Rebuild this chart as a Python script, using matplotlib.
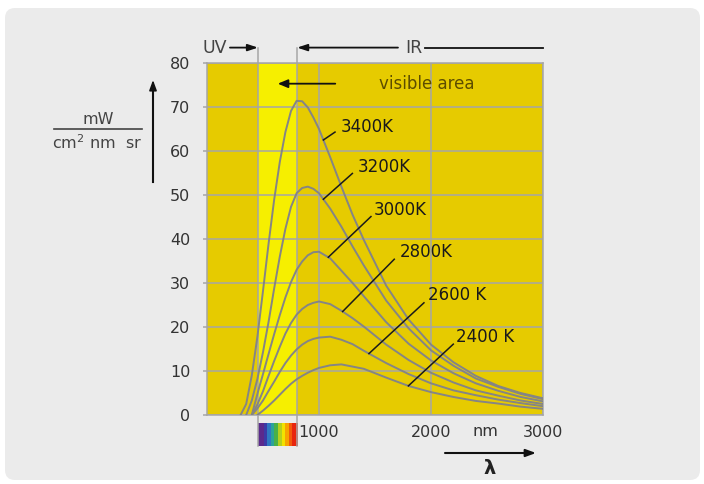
import matplotlib.pyplot as plt
import numpy as np
from matplotlib.colors import ListedColormap
from matplotlib.lines import Line2D
from matplotlib.patches import FancyBboxPatch

plt.rcParams["font.family"] = ["DejaVu Sans"]

nan = np.nan

# wavelength in nm, spectral radiance in mW / (cm^2 nm sr)
wavelength = [300, 350, 400, 450, 500, 550, 600, 650, 700, 750, 800, 850, 900, 950,
              1000, 1100, 1200, 1300, 1400, 1600, 1800, 2000, 2200, 2400, 2600, 2800, 3000]
t3400 = [0, 2.5, 9.0, 17.8, 28.2, 39.0, 49.0, 57.5, 64.3, 69.1, 71.4, 71.3, 69.9, 67.6,
         65.0, 58.6, 51.9, 45.5, 39.8, 29.4, 21.7, 16.0, 12.0, 8.9, 6.6, 5.0, 3.8]
t3200 = [nan, 0, 3.3, 8.2, 14.3, 21.2, 28.8, 36.0, 42.3, 47.3, 50.4, 51.6, 51.9, 51.4,
         50.4, 46.9, 42.8, 38.3, 34.0, 26.0, 19.7, 14.7, 11.2, 8.3, 6.4, 4.8, 3.6]
t3000 = [nan, nan, 0, 4.8, 9.3, 13.9, 18.4, 22.7, 26.7, 30.2, 33.0, 34.9, 36.3, 37.0,
         37.1, 35.6, 32.8, 30.0, 27.0, 21.1, 16.2, 12.4, 9.5, 7.2, 5.5, 4.1, 3.1]
t2800 = [nan, nan, 0, 2.4, 5.4, 8.9, 12.3, 15.5, 18.5, 20.9, 22.8, 24.1, 25.0, 25.5,
         25.8, 25.2, 23.7, 22.0, 20.1, 16.0, 12.5, 9.6, 7.4, 5.6, 4.4, 3.3, 2.5]
t2600 = [nan, nan, 0, 1.5, 3.3, 5.5, 7.6, 9.8, 11.8, 13.5, 14.9, 16.0, 16.8, 17.3,
         17.6, 17.8, 17.1, 16.1, 14.6, 11.8, 9.3, 7.2, 5.6, 4.5, 3.5, 2.7, 2.0]
t2400 = [nan, nan, nan, 0, 1.0, 2.1, 3.3, 4.6, 5.9, 7.1, 8.1, 8.9, 9.6, 10.2,
         10.7, 11.3, 11.5, 11.0, 10.5, 8.5, 6.6, 5.2, 4.1, 3.2, 2.6, 1.9, 1.4]

series = [t3400, t3200, t3000, t2800, t2600, t2400]
labels = ["3400K", "3200K", "3000K", "2800K", "2600 K", "2400 K"]

visible_band = [455, 805]
spectrum_colors = ["#5b2a8c", "#3c3aa6", "#2f78c2", "#2aa39a", "#49b048",
                   "#b5cf1e", "#f2e200", "#f7a400", "#f25a0c", "#e8250e"]
yticks = [0, 10, 20, 30, 40, 50, 60, 70, 80]
xticks = [1000, 2000, 3000]

GOLD = "#e6cb00"
BAND = "#f6ef00"
GRID = "#a6a6a6"
CURVE = "#858585"
TEXT = "#333333"

W, H = 704, 484
fig = plt.figure(figsize=(W / 100, H / 100), dpi=100)
fig.patch.set_facecolor("white")
fig.patches.append(FancyBboxPatch((0.05, 0.04), 6.95, 4.72,
                                  boxstyle="round,pad=0,rounding_size=0.1",
                                  transform=fig.dpi_scale_trans,
                                  facecolor="#ebebeb", edgecolor="none", zorder=-10))


def fp(x, y):
    # pixel position measured from the top-left corner -> figure fraction
    return x / W, 1 - y / H


ax = fig.add_axes([207 / W, 1 - 415 / H, 336 / W, 352 / H])
ax.set_facecolor(GOLD)
ax.axvspan(*visible_band, color=BAND, lw=0, zorder=0)

ax.set_xlim(0, 3000)
ax.set_ylim(0, 80)
ax.set_yticks(yticks)
ax.set_xticks(xticks)
ax.grid(True, color=GRID, lw=1.1, zorder=1)
for x in visible_band:
    ax.axvline(x, color=GRID, lw=1.1, zorder=1)
for s in ax.spines.values():
    s.set_color(GRID)
    s.set_linewidth(1.1)
ax.tick_params(axis="y", length=3, width=1.1, color=GRID, pad=9,
               labelsize=11.5, labelcolor=TEXT)
ax.tick_params(axis="x", length=0, pad=7, labelsize=11.5, labelcolor=TEXT)

for vals in series:
    ax.plot(wavelength, vals, color=CURVE, lw=1.4, zorder=3, solid_joinstyle="round")

# leaders: start wavelength on the curve, end point, text position
leader_start = [1039, 1039, 1083, 1211, 1446, 1798]
leader_end = [(1143, 64.3), (1298, 54.9), (1464, 45.1), (1672, 35.4), (1937, 25.5), (2199, 16.1)]
label_pos = [(1190, 65.4), (1345, 56.3), (1490, 46.6), (1725, 37.0), (1975, 27.3), (2225, 17.8)]
for vals, lab, x0, (x1, y1), (tx, ty) in zip(series, labels, leader_start, leader_end, label_pos):
    y0 = np.interp(x0, wavelength, np.nan_to_num(vals))
    ax.plot([x0, x1], [y0, y1], color="#1a1a1a", lw=1.1, zorder=4)
    ax.text(tx, ty, lab, fontsize=12, color="#1a1a1a", va="center", ha="left")

# visible area note
ax.text(1960, 75.3, "visible area", fontsize=12, color="#5c4d00", ha="center", va="center")
ax.annotate("", xy=(607, 75.3), xytext=(1170, 75.3),
            arrowprops=dict(arrowstyle="-|>,head_length=0.6,head_width=0.25",
                            color="#111111", lw=1.3))

# spectrum strip below the visible band
ax.imshow(np.arange(len(spectrum_colors))[None, :], cmap=ListedColormap(spectrum_colors),
          extent=[visible_band[0], visible_band[1], -7.0, -1.8], aspect="auto",
          interpolation="bilinear", clip_on=False, zorder=2)
for x in visible_band:
    ax.plot([x, x], [0, -7.0], color=GRID, lw=1.1, clip_on=False)
    ax.plot([x, x], [80, 83.5], color=GRID, lw=1.1, clip_on=False)
ax.set_xlim(0, 3000)
ax.set_ylim(0, 80)

# UV / IR markers above the plot
ax.text(70, 83.5, "UV", fontsize=12.5, color="#444444", ha="center", va="center")
ax.annotate("", xy=(visible_band[0], 83.5), xytext=(205, 83.5), annotation_clip=False,
            arrowprops=dict(arrowstyle="-|>,head_length=0.6,head_width=0.2",
                            color="#111111", lw=1.3, shrinkA=0, shrinkB=0))
ax.text(1848, 83.5, "IR", fontsize=12.5, color="#444444", ha="center", va="center")
ax.annotate("", xy=(visible_band[1], 83.5), xytext=(1705, 83.5), annotation_clip=False,
            arrowprops=dict(arrowstyle="-|>,head_length=0.6,head_width=0.2",
                            color="#111111", lw=1.3, shrinkA=0, shrinkB=0))
ax.plot([1950, 3000], [83.5, 83.5], color="#111111", lw=1.3, clip_on=False)

# unit label on the left
fig.text(*fp(98, 119), "mW", fontsize=11.5, color="#444444", ha="center", va="center")
fig.add_artist(Line2D([54 / W, 142 / W], [1 - 129 / H, 1 - 129 / H], color="#444444", lw=1.2))
fig.text(*fp(97, 143), "cm$^2$ nm  sr", fontsize=11.5, color="#444444", ha="center", va="center")
fig.add_artist(Line2D([153 / W, 153 / W], [1 - 182 / H, 1 - 90 / H], color="#111111", lw=1.5))
ax.annotate("", xy=fp(153, 80), xytext=fp(153, 92), xycoords="figure fraction",
            arrowprops=dict(arrowstyle="-|>,head_length=0.6,head_width=0.22",
                            color="#111111", lw=1.2, shrinkA=0, shrinkB=0))

# wavelength unit and lambda arrow
fig.text(*fp(485, 431), "nm", fontsize=11.5, color=TEXT, ha="center", va="center")
ax.annotate("", xy=fp(536, 453), xytext=fp(445, 453), xycoords="figure fraction",
            arrowprops=dict(arrowstyle="-|>,head_length=0.6,head_width=0.22",
                            color="#111111", lw=1.5, shrinkA=0, shrinkB=0))
fig.text(*fp(490, 469), "λ", fontsize=14, fontweight="bold", color="#222222",
         ha="center", va="center")

fig.savefig("out.png", dpi=100)
